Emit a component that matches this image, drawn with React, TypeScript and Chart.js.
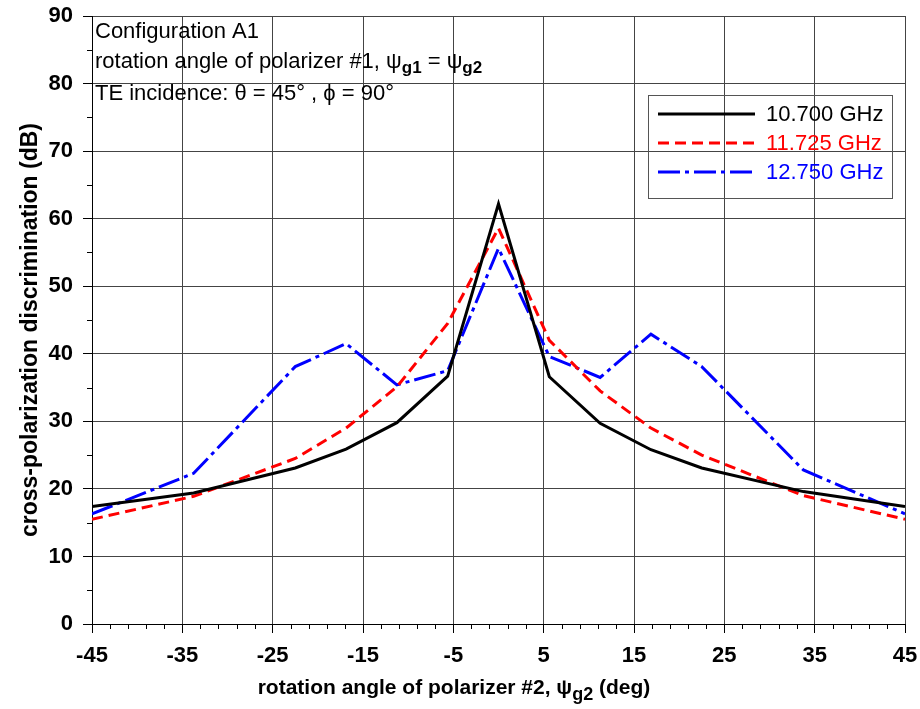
import React, { useEffect, useRef } from "react";
import { Chart, registerables } from "chart.js";

Chart.register(...registerables);

// ---- data ----
const angles = [-45, -33.75, -22.5, -16.875, -11.25, -5.625, 0, 5.625, 11.25, 16.875, 22.5, 33.75, 45];
const xpd10700 = [17.4, 19.4, 23.1, 25.9, 29.8, 36.7, 62.2, 36.6, 29.7, 25.8, 23.1, 19.6, 17.4];
const xpd11725 = [15.5, 18.9, 24.5, 29.0, 35.1, 44.5, 58.6, 42.0, 34.5, 29.0, 25.0, 19.0, 15.5];
const xpd12750 = [16.3, 22.3, 38.1, 41.5, 35.4, 37.5, 55.6, 39.6, 36.5, 42.9, 38.1, 22.8, 16.3];
const seriesLabels = ["10.700 GHz", "11.725 GHz", "12.750 GHz"];
const xTickValues = [-45, -35, -25, -15, -5, 5, 15, 25, 35, 45];
const yTickValues = [0, 10, 20, 30, 40, 50, 60, 70, 80, 90];
const xMinorTicks = [-43, -41, -39, -37, -33, -31, -29, -27, -23, -21, -19, -17, -13, -11, -9, -7, -3, -1, 1, 3, 7, 9, 11, 13, 17, 19, 21, 23, 27, 29, 31, 33, 37, 39, 41, 43];
const yMinorTicks = [5, 15, 25, 35, 45, 55, 65, 75, 85];

const FONT = '"Liberation Sans", Arial, Helvetica, sans-serif';

type Seg = { t: string; sub?: boolean };

function drawRich(ctx: CanvasRenderingContext2D, x: number, y: number, segs: Seg[], size: number, subSize: number, bold: boolean, subDy: number, align: "left" | "center") {
  const setFont = (s: Seg) => {
    ctx.font = `${s.sub || bold ? "bold " : ""}${s.sub ? subSize : size}px ${FONT}`;
  };
  let total = 0;
  segs.forEach((s) => {
    setFont(s);
    total += ctx.measureText(s.t).width;
  });
  let cx = align === "center" ? x - total / 2 : x;
  ctx.textBaseline = "alphabetic";
  ctx.textAlign = "left";
  segs.forEach((s) => {
    setFont(s);
    ctx.fillText(s.t, cx, s.sub ? y + subDy : y);
    cx += ctx.measureText(s.t).width;
  });
}

const decorPlugin = {
  id: "decor",
  afterDraw(chart: any) {
    const { ctx, chartArea, scales } = chart;
    const xs = scales.x;
    const ys = scales.y;
    ctx.save();
    // minor ticks
    ctx.strokeStyle = "#000";
    ctx.lineWidth = 1;
    ctx.beginPath();
    xMinorTicks.forEach((v) => {
      const px = Math.round(xs.getPixelForValue(v)) + 0.5;
      ctx.moveTo(px, chartArea.bottom);
      ctx.lineTo(px, chartArea.bottom + 5);
    });
    yMinorTicks.forEach((v) => {
      const py = Math.round(ys.getPixelForValue(v)) + 0.5;
      ctx.moveTo(chartArea.left - 5, py);
      ctx.lineTo(chartArea.left, py);
    });
    ctx.stroke();

    // annotation text
    ctx.fillStyle = "#000";
    drawRich(ctx, 95, 38, [{ t: "Configuration A1" }], 22, 16, false, 5, "left");
    drawRich(
      ctx,
      95,
      68,
      [
        { t: "rotation angle of polarizer #1, ψ" },
        { t: "g1", sub: true },
        { t: " = ψ" },
        { t: "g2", sub: true },
      ],
      22,
      17,
      false,
      5,
      "left"
    );
    drawRich(ctx, 95, 100, [{ t: "TE incidence: θ = 45° , ϕ = 90°" }], 22, 16, false, 5, "left");

    // x axis title
    drawRich(
      ctx,
      454,
      694,
      [{ t: "rotation angle of polarizer #2, ψ" }, { t: "g2", sub: true }, { t: " (deg)" }],
      21,
      18,
      true,
      6,
      "center"
    );

    // y axis title
    ctx.save();
    ctx.translate(31, 330);
    ctx.rotate(-Math.PI / 2);
    ctx.font = `bold 23px ${FONT}`;
    ctx.textAlign = "center";
    ctx.textBaseline = "middle";
    ctx.fillText("cross-polarization discrimination (dB)", 0, 0);
    ctx.restore();

    // legend
    const bx = 648.5, by = 95.5, bw = 244, bh = 103;
    ctx.strokeStyle = "#555";
    ctx.lineWidth = 1;
    ctx.strokeRect(bx, by, bw, bh);
    const rows = [114, 143, 172];
    chart.data.datasets.forEach((ds: any, i: number) => {
      const ry = rows[i];
      ctx.save();
      ctx.strokeStyle = ds.borderColor;
      ctx.lineWidth = ds.borderWidth;
      ctx.setLineDash(ds.borderDash || []);
      ctx.beginPath();
      ctx.moveTo(658, ry);
      ctx.lineTo(755, ry);
      ctx.stroke();
      ctx.restore();
      ctx.fillStyle = ds.borderColor;
      ctx.font = `22px ${FONT}`;
      ctx.textAlign = "left";
      ctx.textBaseline = "middle";
      ctx.fillText(ds.label, 766, ry + 1);
    });
    ctx.restore();
  },
};

export default function App() {
  const ref = useRef<HTMLCanvasElement | null>(null);
  useEffect(() => {
    document.body.style.margin = "0";
    document.body.style.overflow = "hidden";
    const canvas = ref.current!;
    const mk = (vals: number[]) => angles.map((a, i) => ({ x: a, y: vals[i] }));
    const chart = new Chart(canvas, {
      type: "line",
      data: {
        datasets: [
          { label: seriesLabels[0], data: mk(xpd10700), borderColor: "#000000", borderWidth: 3, borderDash: [], pointRadius: 0, fill: false, tension: 0 },
          { label: seriesLabels[1], data: mk(xpd11725), borderColor: "#ff0000", borderWidth: 3, borderDash: [11, 6], pointRadius: 0, fill: false, tension: 0 },
          { label: seriesLabels[2], data: mk(xpd12750), borderColor: "#0000ff", borderWidth: 3, borderDash: [22, 5, 4, 5], pointRadius: 0, fill: false, tension: 0 },
        ],
      },
      options: {
        animation: false,
        responsive: false,
        devicePixelRatio: 1,
        layout: { padding: { top: 16, right: 15, left: 0, bottom: 0 } },
        plugins: { legend: { display: false }, tooltip: { enabled: false } },
        scales: {
          x: {
            type: "linear",
            min: -45,
            max: 45,
            afterBuildTicks: (s: any) => {
              s.ticks = xTickValues.map((v) => ({ value: v }));
            },
            afterFit: (s: any) => {
              s.height = 85;
              s.paddingRight = 0;
              s.paddingLeft = 0;
            },
            grid: { color: "#444", lineWidth: 1, drawTicks: true, tickLength: 9, tickColor: "#000" },
            border: { color: "#000", width: 1 },
            ticks: { color: "#000", font: { family: FONT, size: 22, weight: "bold" }, padding: 10, maxRotation: 0, autoSkip: false },
          },
          y: {
            type: "linear",
            min: 0,
            max: 90,
            afterBuildTicks: (s: any) => {
              s.ticks = yTickValues.map((v) => ({ value: v }));
            },
            afterFit: (s: any) => {
              s.width = 92;
              s.paddingTop = 0;
              s.paddingBottom = 0;
            },
            grid: { color: "#444", lineWidth: 1, drawTicks: true, tickLength: 9, tickColor: "#000" },
            border: { color: "#000", width: 1 },
            ticks: { color: "#000", font: { family: FONT, size: 22, weight: "bold" }, padding: 10, autoSkip: false },
          },
        },
      },
      plugins: [decorPlugin],
    });
    return () => chart.destroy();
  }, []);
  return <canvas ref={ref} width={920} height={709} style={{ display: "block" }} />;
}
